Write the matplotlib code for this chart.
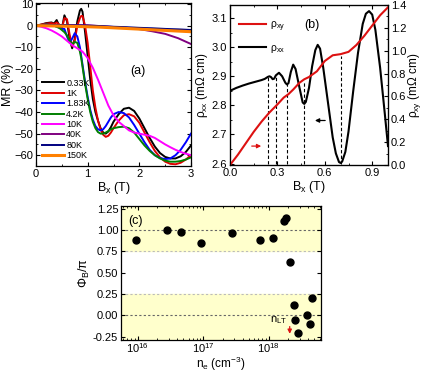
import numpy as np
import matplotlib
matplotlib.use('Agg')
import matplotlib.pyplot as plt
from matplotlib.ticker import MultipleLocator, LogLocator, NullFormatter

plt.rcParams['font.family'] = ['Liberation Sans', 'DejaVu Sans']
plt.rcParams['mathtext.fontset'] = 'custom'
plt.rcParams['mathtext.rm'] = 'Liberation Sans'
plt.rcParams['mathtext.it'] = 'Liberation Sans:italic'
plt.rcParams['font.size'] = 8

# ---- panel (a): MR vs B at several temperatures
B_a = [0, 0.1, 0.2, 0.3, 0.35, 0.4, 0.45, 0.5, 0.55, 0.6, 0.65, 0.7, 0.75, 0.8,
       0.85, 0.875, 0.9, 0.95, 1.0, 1.05, 1.1, 1.15, 1.2, 1.25, 1.3, 1.35, 1.4,
       1.45, 1.5, 1.6, 1.7, 1.8, 1.9, 2.0, 2.1, 2.2, 2.3, 2.4, 2.5, 2.6, 2.7,
       2.8, 2.9, 3.0]
mr_033K = [0, 0.5, 1.2, 1.5, 1.0, 2.6, 0.0, -1.5, 4.8, 2.0, -6, -10.5, -6, 2.0,
           7.0, 7.8, 6.5, -3, -14, -25, -34, -40, -44, -47.5, -49.5, -50, -49,
           -47, -44.5, -41, -38.5, -38, -39.5, -43, -47.5, -52, -56, -59, -60.8,
           -61.5, -61.5, -60.5, -58.5, -55.5]
mr_1K = [0, 0.5, 1.0, 1.2, 0.8, 1.5, 0.5, -1.5, 3.5, 3.0, -4, -9.5, -7, 0,
         3.5, 4.5, 4.5, 0, -8, -19, -30, -38, -44, -48, -50.5, -51.5, -51,
         -49.5, -47.5, -44, -41.5, -41, -42, -45, -49.5, -54, -58, -61, -63,
         -64, -64.2, -63.5, -62, -60]
mr_183K = [0, 0.3, 0.5, 0.3, 0, -0.5, -1, -1.5, -1.5, -5, -7.8, -6, -3.5, -5,
           -10, -14, -18, -26, -33, -39, -43.5, -46.5, -48, -48.5, -48, -46.5,
           -44.5, -42.5, -41, -40, -40.5, -42.5, -46, -50, -54, -57.5, -60,
           -61.3, -61.8, -61.5, -60, -57.5, -54, -50]
mr_42K = [0, 0.3, 0.5, 0.2, 0, -0.5, -1, -2, -3, -4.5, -7, -8.5, -7.5, -8,
          -12, -15, -19, -27, -34, -40, -44.5, -47.5, -49.3, -50, -50, -49.5,
          -48.8, -48, -47.5, -47, -46.8, -47.5, -49.5, -52.5, -55.5, -58, -60,
          -61.5, -62.5, -63, -63, -62.7, -62, -61]
B_10K = [0, 0.1, 0.2, 0.3, 0.4, 0.5, 0.6, 0.7, 0.8, 0.9, 1.0, 1.1, 1.2, 1.3,
         1.4, 1.5, 1.6, 1.7, 1.8, 1.9, 2.0, 2.1, 2.2, 2.3, 2.4, 2.5, 2.6, 2.7,
         2.8, 2.9, 3.0]
mr_10K = [0, -0.5, -1.2, -2.2, -3.5, -5, -7, -9, -10.5, -12, -15, -19.5, -25,
          -31, -37, -41.5, -44.5, -46.5, -48.5, -49.5, -50, -50.5, -51, -52,
          -53.5, -55, -56.3, -57.5, -58.5, -59.3, -60]
B_hi = [0, 0.5, 1.0, 1.25, 1.5, 1.75, 2.0, 2.25, 2.5, 2.75, 3.0]
mr_40K = [0, 0.3, 0.2, -0.2, -0.6, -1.0, -1.6, -2.6, -3.8, -5.8, -8.5]
mr_80K = [0, 0.2, 0.0, -0.2, -0.5, -0.7, -1.0, -1.2, -1.5, -1.7, -2.0]
mr_150K = [0, -0.2, -0.5, -0.7, -1.0, -1.3, -1.6, -1.9, -2.2, -2.5, -2.8]

# ---- panel (b): rho_xx and rho_xy at low T
B_xx = [0.0, 0.04, 0.08, 0.12, 0.16, 0.20, 0.22, 0.24, 0.25, 0.26, 0.27, 0.28,
        0.29, 0.31, 0.33, 0.35, 0.36, 0.37, 0.385, 0.40, 0.415, 0.44, 0.46,
        0.47, 0.48, 0.50, 0.52, 0.54, 0.555, 0.57, 0.59, 0.62, 0.65, 0.67,
        0.69, 0.70, 0.71, 0.73, 0.75, 0.78, 0.81, 0.84, 0.86, 0.88, 0.90,
        0.92, 0.95, 0.98, 1.00]
rho_xx = [2.850, 2.860, 2.868, 2.875, 2.881, 2.887, 2.891, 2.898, 2.900, 2.897,
          2.890, 2.892, 2.903, 2.912, 2.900, 2.878, 2.872, 2.876, 2.915, 2.940,
          2.925, 2.860, 2.810, 2.805, 2.812, 2.860, 2.935, 2.990, 3.008, 2.995,
          2.930, 2.810, 2.690, 2.635, 2.605, 2.602, 2.607, 2.640, 2.710, 2.850,
          2.980, 3.080, 3.115, 3.124, 3.112, 3.060, 2.930, 2.770, 2.660]
B_xy = [0.0, 0.05, 0.1, 0.15, 0.2, 0.25, 0.3, 0.34, 0.37, 0.4, 0.44, 0.47,
        0.5, 0.55, 0.6, 0.65, 0.7, 0.75, 0.8, 0.85, 0.9, 0.95, 1.0]
rho_xy = [0.0, 0.09, 0.19, 0.29, 0.38, 0.46, 0.53, 0.59, 0.62, 0.66, 0.72,
          0.75, 0.77, 0.82, 0.91, 0.96, 0.97, 0.99, 1.05, 1.13, 1.22, 1.31,
          1.38]
B_dash = [0.24, 0.29, 0.36, 0.47, 0.70]
dash_top = [2.900, 2.905, 2.875, 2.885, 2.970]

# ---- panel (c): Berry phase vs carrier density
n_e = [9.5e15, 2.8e16, 4.6e16, 9.3e16, 2.75e17, 7.4e17, 1.15e18, 1.7e18,
       1.87e18, 2.1e18, 2.4e18, 2.53e18, 2.84e18, 3.8e18, 4.3e18, 4.55e18]
phase = [0.88, 1.00, 0.98, 0.85, 0.96, 0.88, 0.91, 1.10, 1.14, 0.62, 0.115,
         -0.06, -0.21, 0.0, -0.105, 0.20]
n_LT = 2.1e18

W, H = 424, 373
fig = plt.figure(figsize=(W / 100, H / 100), dpi=100)


def rect(l, t, r, b):
    return [l / W, 1 - b / H, (r - l) / W, (b - t) / H]


def style(ax, right=True):
    ax.tick_params(which='both', direction='in', top=True, right=right,
                   labelsize=8, pad=2)
    ax.tick_params(which='major', length=3, width=0.8)
    ax.tick_params(which='minor', length=1.5, width=0.6)
    for s in ax.spines.values():
        s.set_linewidth(0.9)


# (a)
ax_a = fig.add_axes(rect(36, 3, 191, 166))
ax_a.plot(B_a, mr_033K, color='black', lw=1.4, label='0.33K')
ax_a.plot(B_a, mr_1K, color='#e00000', lw=1.4, label='1K')
ax_a.plot(B_a, mr_183K, color='#0000ff', lw=1.4, label='1.83K')
ax_a.plot(B_a, mr_42K, color='#008000', lw=1.4, label='4.2K')
ax_a.plot(B_10K, mr_10K, color='#ff00ff', lw=1.4, label='10K')
ax_a.plot(B_hi, mr_40K, color='#800080', lw=1.4, label='40K')
ax_a.plot(B_hi, mr_80K, color='#000080', lw=1.4, label='80K')
ax_a.plot(B_hi, mr_150K, color='#ff8000', lw=2.2, label='150K')
ax_a.set_xlim(0, 3)
ax_a.set_ylim(-65, 10.5)
ax_a.xaxis.set_major_locator(MultipleLocator(1))
ax_a.xaxis.set_minor_locator(MultipleLocator(0.5))
ax_a.yaxis.set_major_locator(MultipleLocator(10))
ax_a.yaxis.set_minor_locator(MultipleLocator(5))
style(ax_a)
ax_a.set_xlabel('B$_{\\rm x}$ (T)', fontsize=9, labelpad=1)
ax_a.set_ylabel('MR (%)', fontsize=9, labelpad=0)
ax_a.text(0.66, 0.58, '(a)', transform=ax_a.transAxes, fontsize=9,
          ha='center', va='center')
ax_a.legend(loc='lower left', bbox_to_anchor=(0.0, 0.0), frameon=False,
            fontsize=6.5, handlelength=2.4, handletextpad=0.3,
            labelspacing=0.15, borderaxespad=0.25)

# (b)
ax_b = fig.add_axes(rect(230, 5, 388, 165))
ax_b2 = ax_b.twinx()
for x, top in zip(B_dash, dash_top):
    ax_b.plot([x, x], [2.6, top], color='black', lw=0.8, ls=(0, (3, 2)))
l_xx, = ax_b.plot(B_xx, rho_xx, color='black', lw=1.5, label='ρ$_{\\rm xx}$')
l_xy, = ax_b2.plot(B_xy, rho_xy, color='#dd1111', lw=1.5, label='ρ$_{\\rm xy}$')
ax_b.set_xlim(0, 1.0)
ax_b.set_ylim(2.595, 3.145)
ax_b2.set_ylim(0, 1.4)
ax_b.xaxis.set_major_locator(MultipleLocator(0.3))
ax_b.xaxis.set_minor_locator(MultipleLocator(0.15))
ax_b.yaxis.set_major_locator(MultipleLocator(0.1))
ax_b.yaxis.set_minor_locator(MultipleLocator(0.05))
ax_b2.yaxis.set_major_locator(MultipleLocator(0.2))
ax_b2.yaxis.set_minor_locator(MultipleLocator(0.1))
style(ax_b, right=False)
ax_b2.tick_params(which='both', direction='in', labelsize=8, pad=2)
ax_b2.tick_params(which='major', length=3, width=0.8)
ax_b2.tick_params(which='minor', length=1.5, width=0.6)
ax_b.set_xlabel('B$_{\\rm x}$ (T)', fontsize=9, labelpad=1)
ax_b.set_ylabel('ρ$_{\\rm xx}$ (mΩ cm)', fontsize=8.5, labelpad=1)
ax_b2.set_ylabel('ρ$_{\\rm xy}$ (mΩ cm)', fontsize=8.5, labelpad=0)
ax_b.text(0.52, 0.875, '(b)', transform=ax_b.transAxes, fontsize=9,
          ha='center', va='center')
ax_b.legend([l_xy, l_xx], [l_xy.get_label(), l_xx.get_label()],
            loc='upper left', bbox_to_anchor=(0.0, 0.97), frameon=False,
            fontsize=7.5, handlelength=2.6, handletextpad=0.3,
            labelspacing=0.9)
ax_b.annotate('', xy=(0.215, 2.66), xytext=(0.12, 2.66),
              arrowprops=dict(arrowstyle='-|>', color='#dd1111', lw=0.9,
                              mutation_scale=6))
ax_b.annotate('', xy=(0.52, 2.748), xytext=(0.62, 2.748),
              arrowprops=dict(arrowstyle='-|>', color='black', lw=0.9,
                              mutation_scale=6))

# (c)
ax_c = fig.add_axes(rect(121, 206, 321, 340))
ax_c.set_xscale('log')
ax_c.set_xlim(5.6e15, 6.3e18)
ax_c.set_ylim(-0.29, 1.28)
ax_c.axhspan(0.75, 1.28, color='#ffffcc', zorder=0)
ax_c.axhspan(-0.29, 0.25, color='#ffffcc', zorder=0)
for yv, c in [(1.0, '#666666'), (0.0, '#666666'), (0.75, '#bbbbbb'),
              (0.25, '#bbbbbb')]:
    ax_c.axhline(yv, color=c, lw=0.8, ls=(0, (2, 2)), zorder=1)
ax_c.plot(n_e, phase, 'o', color='black', ms=5, zorder=3)
ax_c.annotate('', xy=(n_LT, -0.25), xytext=(n_LT, -0.1),
              arrowprops=dict(arrowstyle='-|>', color='#dd1111', lw=0.9,
                              mutation_scale=6))
ax_c.text(1.95e18, -0.13, 'n$_{\\rm LT}$', ha='right', va='bottom',
          fontsize=8)
ax_c.yaxis.set_major_locator(MultipleLocator(0.25))
ax_c.yaxis.set_major_formatter(matplotlib.ticker.FormatStrFormatter('%.2f'))
ax_c.xaxis.set_major_locator(LogLocator(base=10, numticks=10))
ax_c.xaxis.set_minor_locator(LogLocator(base=10, subs=np.arange(2, 10),
                                        numticks=20))
ax_c.xaxis.set_minor_formatter(NullFormatter())
style(ax_c)
ax_c.tick_params(axis='x', pad=1)
ax_c.set_xlabel('n$_{\\rm e}$ (cm$^{-3}$)', fontsize=8.5, labelpad=0)
ax_c.set_ylabel('Φ$_{\\rm B}$/π', fontsize=9, labelpad=1)
ax_c.text(0.07, 0.89, '(c)', transform=ax_c.transAxes, fontsize=9,
          ha='center', va='center')

fig.savefig('out.png', dpi=100)
